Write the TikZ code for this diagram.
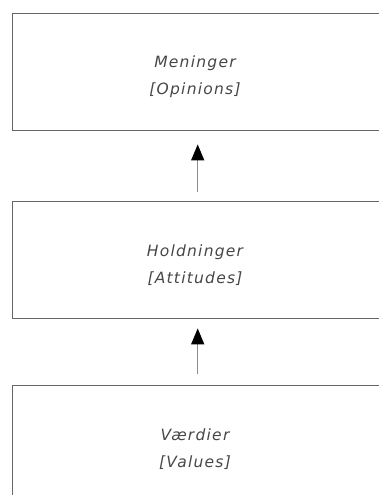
\documentclass[tikz,border=0pt]{standalone}
\usepackage{fontspec}
\setmainfont{DejaVu Sans}[LetterSpace=8]
\usetikzlibrary{arrows.meta}
\begin{document}
\begin{tikzpicture}[x=1pt,y=-1pt,
  box/.style={draw=black!60, line width=1.4pt, minimum width=370pt, minimum height=117pt, inner sep=0pt, anchor=north west},
  lbl/.style={font=\fontsize{15.5}{27}\selectfont\itshape, text=black!72, align=center, inner sep=0pt},
  up/.style={draw=black!45, line width=1.4pt, -{Triangle[width=13pt,length=16pt,color=black]}}]
\useasboundingbox (0,0) rectangle (379,495);
\clip (0,0) rectangle (379,495);
\node[box] (op) at (12,13) {};
\node[box] (at) at (12,201) {};
\node[box] (va) at (12,385) {};
\node[lbl] (opt) at (195,77) {Meninger\\{[Opinions]}};
\node[lbl] (att) at (195,265) {Holdninger\\{[Attitudes]}};
\node[lbl] (vat) at (195,449) {Værdier\\{[Values]}};
\draw[up, shorten <=9pt, shorten >=13pt] (at.north) -- (op.south);
\draw[up, shorten <=11pt, shorten >=9pt] (va.north) -- (at.south);
\end{tikzpicture}
\end{document}
